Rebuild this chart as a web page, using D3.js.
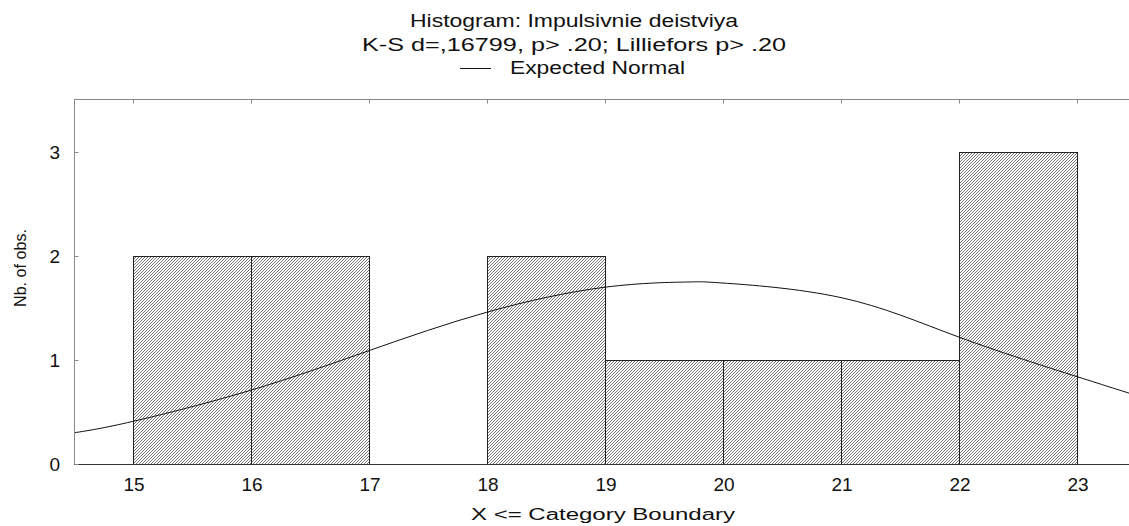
<!DOCTYPE html>
<html>
<head>
<meta charset="utf-8">
<script src="https://cdn.jsdelivr.net/npm/d3@7"></script>
<style>
  body { margin: 0; background: #fff; }
  svg { display: block; font-family: "Liberation Sans", Arial, sans-serif; }
</style>
</head>
<body>
<div class="chart"></div>
<script>

// histogram bins: left boundary, right boundary, count
var binStarts = [15, 16, 17, 18, 19, 20, 21, 22];
var binEnds   = [16, 17, 18, 19, 20, 21, 22, 23];
var counts    = [2, 2, 0, 2, 1, 1, 1, 3];

var xTicks = [15, 16, 17, 18, 19, 20, 21, 22, 23];
var yTicks = [0, 1, 2, 3];

// expected normal curve
var normalX = [14.5, 15, 16, 17, 18, 19, 19.7, 20, 21, 22, 23, 23.5];
var normalY = [0.30, 0.41, 0.71, 1.09, 1.46, 1.70, 1.75, 1.74, 1.60, 1.22, 0.84, 0.66];

var titleLines = [
  "Histogram: Impulsivnie deistviya",
  "K-S d=,16799, p> .20; Lilliefors p> .20"
];
var legendLabel = "Expected Normal";

var width = 1129, height = 526;
var plotLeft = 74, plotTop = 100, plotBottom = 464, plotRight = 1136;

var svg = d3.select(".chart").append("svg")
  .attr("width", width)
  .attr("height", height);

// hatch pattern for the bars (fine pixel diagonals)
var pat = svg.append("defs").append("pattern")
  .attr("id", "hatch")
  .attr("patternUnits", "userSpaceOnUse")
  .attr("width", 3)
  .attr("height", 3);
pat.append("rect").attr("width", 3).attr("height", 3).attr("fill", "#fff");
pat.append("path")
  .attr("d", "M0,3 L3,0 M-1,1 L1,-1 M2,4 L4,2")
  .attr("stroke", "#777")
  .attr("stroke-width", 1)
  .attr("shape-rendering", "crispEdges");

var x = d3.scaleLinear()
  .domain([14.5, 23.5])
  .range([plotLeft, plotRight]);

var y = d3.scaleLinear()
  .domain([0, 3.5])
  .range([plotBottom, plotTop]);

// join the bin arrays, skip empty bins
var bins = counts.map(function(c, i) {
  return { x0: binStarts[i], x1: binEnds[i], n: c };
}).filter(function(b) { return b.n > 0; });

svg.selectAll("rect.bar")
    .data(bins)
  .enter().append("rect")
    .attr("class", "bar")
    .attr("x", function(d) { return Math.round(x(d.x0)) + 0.5; })
    .attr("y", function(d) { return Math.round(y(d.n)) + 0.5; })
    .attr("width", function(d) { return Math.round(x(d.x1)) - Math.round(x(d.x0)); })
    .attr("height", function(d) { return y(0) - Math.round(y(d.n)); })
    .attr("fill", "url(#hatch)")
    .attr("stroke", "#222")
    .attr("stroke-width", 1);

// expected normal line
var line = d3.line()
  .x(function(d, i) { return x(normalX[i]); })
  .y(function(d) { return y(d); })
  .curve(d3.curveNatural);

svg.append("path")
  .datum(normalY)
  .attr("d", line)
  .attr("fill", "none")
  .attr("stroke", "#111")
  .attr("stroke-width", 1);

// frame
svg.append("line")
  .attr("x1", plotLeft + 0.5).attr("x2", plotLeft + 0.5)
  .attr("y1", plotTop).attr("y2", plotBottom)
  .attr("stroke", "#888");
svg.append("line")
  .attr("x1", plotLeft).attr("x2", width)
  .attr("y1", plotTop - 0.5).attr("y2", plotTop - 0.5)
  .attr("stroke", "#888");
svg.append("line")
  .attr("x1", plotLeft).attr("x2", width)
  .attr("y1", plotBottom + 0.5).attr("y2", plotBottom + 0.5)
  .attr("stroke", "#333");

// axes (inner ticks)
var yAxis = svg.append("g")
  .attr("transform", "translate(" + (plotLeft + 0.5) + ",0)")
  .call(d3.axisRight(y).tickValues(yTicks).tickSize(4).tickFormat(""));
yAxis.select(".domain").remove();
yAxis.selectAll("line").attr("stroke", "#888");

var xTop = svg.append("g")
  .attr("transform", "translate(0," + (plotTop - 0.5) + ")")
  .call(d3.axisBottom(x).tickValues(xTicks).tickSize(4).tickFormat(""));
xTop.select(".domain").remove();
xTop.selectAll("line").attr("stroke", "#888");

// tick labels
svg.selectAll("text.ylab")
    .data(yTicks)
  .enter().append("text")
    .attr("class", "ylab")
    .attr("x", 60)
    .attr("y", function(d) { return y(d) + 7; })
    .attr("text-anchor", "end")
    .attr("font-size", 19)
    .attr("fill", "#111")
    .text(function(d) { return d; });

svg.selectAll("text.xlab")
    .data(xTicks)
  .enter().append("text")
    .attr("class", "xlab")
    .attr("x", function(d) { return x(d) + 1; })
    .attr("y", 491)
    .attr("text-anchor", "middle")
    .attr("font-size", 19)
    .attr("fill", "#111")
    .text(function(d) { return d; });

// axis titles
svg.append("text")
  .attr("x", 471)
  .attr("y", 520)
  .attr("font-size", 16)
  .attr("textLength", 264)
  .attr("lengthAdjust", "spacingAndGlyphs")
  .attr("fill", "#111")
  .text("X <= Category Boundary");

svg.append("text")
  .attr("transform", "translate(26,268) rotate(-90)")
  .attr("text-anchor", "middle")
  .attr("font-size", 17)
  .attr("textLength", 78)
  .attr("lengthAdjust", "spacingAndGlyphs")
  .attr("fill", "#111")
  .text("Nb. of obs.");

// title
var titleWidths = [328, 424];
svg.selectAll("text.title")
    .data(titleLines)
  .enter().append("text")
    .attr("class", "title")
    .attr("x", function(d, i) { return 574 - titleWidths[i] / 2; })
    .attr("y", function(d, i) { return 27 + i * 23.5; })
    .attr("font-size", 17.5)
    .attr("textLength", function(d, i) { return titleWidths[i]; })
    .attr("lengthAdjust", "spacingAndGlyphs")
    .attr("fill", "#111")
    .text(function(d) { return d; });

// legend
svg.append("line")
  .attr("x1", 460).attr("x2", 491)
  .attr("y1", 68.5).attr("y2", 68.5)
  .attr("stroke", "#111");
svg.append("text")
  .attr("x", 510)
  .attr("y", 74)
  .attr("font-size", 17.5)
  .attr("textLength", 175)
  .attr("lengthAdjust", "spacingAndGlyphs")
  .attr("fill", "#111")
  .text(legendLabel);

</script>
</body>
</html>
